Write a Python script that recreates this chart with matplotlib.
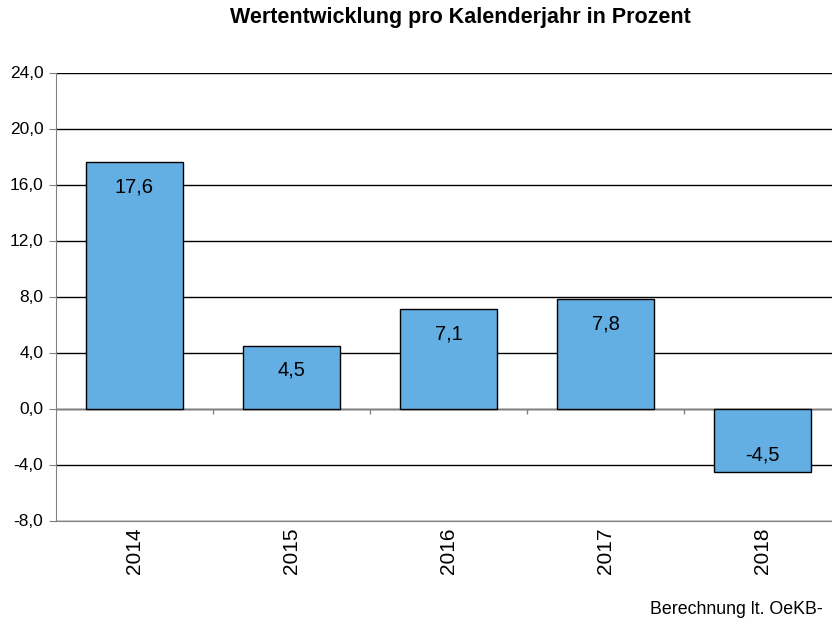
import matplotlib
matplotlib.use("Agg")
import matplotlib.pyplot as plt

# chart data
years = ["2014", "2015", "2016", "2017", "2018"]
values = [17.6, 4.5, 7.1, 7.8, -4.5]
yticks = [-8, -4, 0, 4, 8, 12, 16, 20, 24]

barColor = "#63AEE3"
gray = "#808080"

fig = plt.figure(figsize=(8.32, 6.19), dpi=100)
# axes runs a bit past the right edge, like the original export
ax = fig.add_axes([56 / 832, 98.5 / 619, 785 / 832, 448 / 619])

x = list(range(len(years)))
ax.bar(x, values, width=0.624, color=barColor, edgecolor="black", linewidth=1, zorder=3)

# value labels inside the bar ends
for xi, v in zip(x, values):
    label = ("%.1f" % v).replace(".", ",")
    if v >= 0:
        ax.annotate(label, (xi, v), xytext=(0, -18), textcoords="offset points",
                    ha="center", va="center", fontsize=14.5, family="Liberation Sans", zorder=4)
    else:
        ax.annotate(label, (xi, v), xytext=(0, 12), textcoords="offset points",
                    ha="center", va="center", fontsize=14.5, family="Liberation Sans", zorder=4)

ax.set_xlim(-0.5, len(years) - 0.5)
ax.set_ylim(-8, 24)
ax.set_yticks(yticks)
ax.set_yticklabels([("%.1f" % t).replace(".", ",") for t in yticks],
                   fontsize=12.5, family="Liberation Sans")
ax.yaxis.grid(True, color="black", linewidth=1, zorder=0)
ax.axhline(0, color=gray, linewidth=1, zorder=2)

# small category separator ticks on the zero line
ax.vlines([i + 0.5 for i in x[:-1]], -0.38, 0, color=gray, linewidth=1, zorder=2)

ax.set_xticks(x)
ax.set_xticklabels(years, rotation=90, fontsize=15, family="Liberation Sans")
ax.tick_params(axis="x", length=0, pad=5)
ax.tick_params(axis="y", length=5, color=gray, pad=4)

for side in ["top", "right"]:
    ax.spines[side].set_visible(False)
ax.spines["left"].set_color(gray)
ax.spines["bottom"].set_color(gray)

fig.text(460 / 832, 1 - 18 / 619, "Wertentwicklung pro Kalenderjahr in Prozent",
         ha="center", va="center", fontsize=15.5, fontweight="bold", family="Liberation Sans")
fig.text(823 / 832, 1 - 610 / 619, "Berechnung lt. OeKB-",
         ha="right", va="center", fontsize=12.8, family="Liberation Sans")

fig.savefig("out.png", dpi=100)
